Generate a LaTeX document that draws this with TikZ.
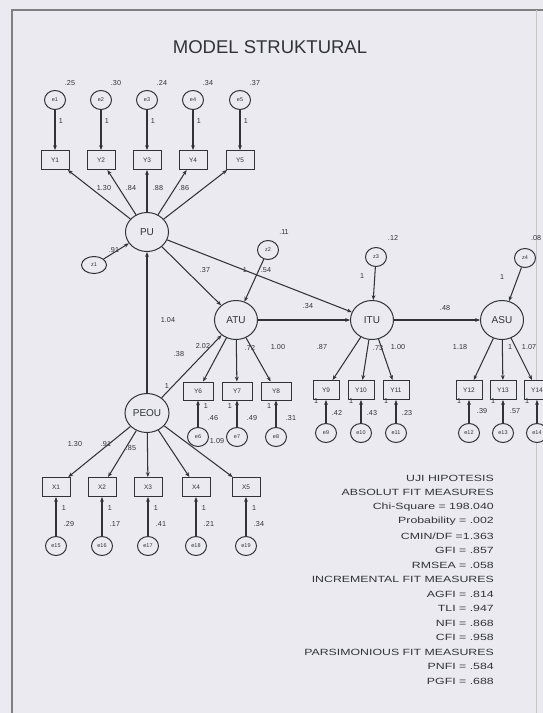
\documentclass[tikz,border=0pt]{standalone}
\usepackage{fontspec}
\usepackage{graphicx}
\setmainfont{Liberation Sans}
\usetikzlibrary{arrows.meta,shapes.geometric}
\definecolor{bg}{RGB}{234,234,240}
\definecolor{ink}{RGB}{50,50,58}
\newcommand\wide[1]{\scalebox{1.37}[1]{#1}}
\begin{document}
\begin{tikzpicture}[x=1pt,y=-1pt,
  >={Stealth[length=4.8pt,width=3.8pt]},
  conn/.style={draw=ink,line width=1.05pt,->},
  obs/.style={draw=ink,line width=1pt,fill=bg,minimum width=28pt,minimum height=19pt,inner sep=0pt,text=ink,font=\fontsize{6.5}{7}\selectfont},
  obsn/.style={obs,minimum width=26pt},
  lat/.style={ellipse,draw=ink,line width=1pt,fill=bg,minimum width=43pt,minimum height=39pt,inner sep=0pt,text=ink,font=\fontsize{10}{12}\selectfont},
  err/.style={ellipse,draw=ink,line width=1pt,fill=bg,minimum width=21pt,minimum height=19pt,inner sep=0pt,text=ink,font=\fontsize{5.5}{6}\selectfont},
  lab/.style={inner sep=0pt,text=ink,font=\fontsize{7.2}{8}\selectfont},
  fitl/.style={inner sep=0pt,anchor=east,text=ink,font=\fontsize{9}{10}\selectfont}]
\useasboundingbox (0,0) rectangle (543,713);
\fill[bg] (0,0) rectangle (543,713);
\draw[gray,line width=1.6pt] (12,713) -- (12,10) -- (543,10);
\draw[gray!45,line width=0.8pt] (536,10) -- (536,713);
\node[text=ink,font=\fontsize{18.5}{21}\selectfont] (title) at (270,47) {MODEL STRUKTURAL};
% ---- PU block
\node[lat] (PU) at (147,232) {PU};
\foreach \i/\x/\v in {1/55/.25,2/101/.30,3/147/.24,4/193/.34,5/240/.37}{
  \node[err] (e\i) at (\x,100) {e\i};
  \node[obs] (Y\i) at (\x,160) {Y\i};
  \node[lab] (ve\i) at (\x+15,83) {\v};
  \node[lab] (one\i) at (\x+6,121) {1};
  \draw[conn] (e\i) -- (Y\i);
  \draw[conn] (PU) -- (Y\i);
}
\node[lab] (lpu1) at (104,188) {1.30};
\node[lab] (lpu2) at (131,188) {.84};
\node[lab] (lpu3) at (158,188) {.88};
\node[lab] (lpu4) at (184,188) {.86};
\node[err,minimum width=25pt,minimum height=17pt] (z1) at (94,265) {z1};
\node[lab] (vz1) at (114,250) {.91};
\draw[conn] (z1) -- (PU);
% ---- structural
\node[lat] (ATU) at (236,320) {ATU};
\node[lat] (ITU) at (372,320) {ITU};
\node[lat] (ASU) at (502,320) {ASU};
\node[lat,minimum width=44pt] (PEOU) at (147,413) {PEOU};
\node[err] (z2) at (268,250) {z2};
\node[err] (z3) at (376,257) {z3};
\node[err] (z4) at (525,258) {z4};
\draw[conn] (PEOU) -- (PU);
\draw[conn] (PU) -- (ATU);
\draw[conn] (PU) -- (ITU);
\draw[conn] (PEOU) -- (ATU);
\draw[conn] (ATU) -- (ITU);
\draw[conn] (ITU) -- (ASU);
\draw[conn] (z2) -- (ATU);
\draw[conn] (z3) -- (ITU);
\draw[conn] (z4) -- (ASU);
\node[lab] (l104) at (168,320) {1.04};
\node[lab] (l37) at (205,270) {.37};
\node[lab] (v11) at (284,232) {.11};
\node[lab] (o2) at (245,270) {1};
\node[lab] (r54) at (266,270) {.54};
\node[lab] (l34) at (308,306) {.34};
\node[lab] (v12) at (393,238) {.12};
\node[lab] (o3) at (362,276) {1};
\node[lab] (l48) at (445,308) {.48};
\node[lab] (v08) at (536,238) {.08};
\node[lab] (o4) at (502,277) {1};
\node[lab] (l38) at (179,354) {.38};
\node[lab] (lp1) at (167,386) {1};
% ---- ATU indicators
\foreach \i/\x/\v in {6/198/.46,7/237/.49,8/276/.31}{
  \node[obs,minimum width=30pt,minimum height=18pt] (Y\i) at (\x,391) {Y\i};
  \node[err] (e\i) at (\x,437) {e\i};
  \node[lab] (ve\i) at (\x+15,418) {\v};
  \draw[conn] (e\i) -- (Y\i);
  \draw[conn] (ATU) -- (Y\i);
}
\node[lab] (one6) at (206,406) {1};
\node[lab] (one7) at (230,406) {1};
\node[lab] (one8) at (269,406) {1};
\node[lab] (la6) at (203,346) {2.02};
\node[lab] (la7) at (250,348) {.72};
\node[lab] (la8) at (278,347) {1.00};
\node[lab] (l109) at (217,441) {1.09};
% ---- ITU indicators
\foreach \i/\x/\v in {9/326/.42,10/361/.43,11/396/.23}{
  \node[obsn] (Y\i) at (\x,390) {Y\i};
  \node[err] (e\i) at (\x,433) {e\i};
  \node[lab] (ve\i) at (\x+11,413) {\v};
  \node[lab] (one\i) at (\x-10,401) {1};
  \draw[conn] (e\i) -- (Y\i);
  \draw[conn] (ITU) -- (Y\i);
}
\node[lab] (li9) at (322,347) {.87};
\node[lab] (li10) at (378,348) {.73};
\node[lab] (li11) at (398,347) {1.00};
% ---- ASU indicators
\foreach \i/\x in {12/469,13/503,14/537}{
  \node[obsn] (Y\i) at (\x,390) {Y\i};
  \node[err] (e\i) at (\x,433) {e\i};
  \node[lab] (one\i) at (\x-10,401) {1};
  \draw[conn] (e\i) -- (Y\i);
  \draw[conn] (ASU) -- (Y\i);
}
\node[lab] (ve12) at (482,411) {.39};
\node[lab] (ve13) at (515,411) {.57};
\node[lab] (ls12) at (460,347) {1.18};
\node[lab] (ls13) at (510,347) {1};
\node[lab] (ls14) at (529,347) {1.07};
% ---- PEOU indicators
\foreach \i/\x/\v/\n in {1/56/.29/15,2/102/.17/16,3/148/.41/17,4/196/.21/18,5/246/.34/19}{
  \node[obs] (X\i) at (\x,487) {X\i};
  \node[err] (e\n) at (\x,546) {e\n};
  \node[lab] (ve\n) at (\x+13,524) {\v};
  \node[lab] (one\n) at (\x+8,508) {1};
  \draw[conn] (e\n) -- (X\i);
  \draw[conn] (PEOU) -- (X\i);
}
\node[lab] (lx1) at (75,444) {1.30};
\node[lab] (lx2) at (106,444) {.91};
\node[lab] (lx3) at (131,448) {.85};
% ---- fit measures
\node[fitl] (f1) at (494,478) {\wide{UJI HIPOTESIS}};
\node[fitl] (f2) at (494,492.5) {\wide{ABSOLUT FIT MEASURES}};
\node[fitl] (f3) at (494,507) {\wide{Chi-Square = 198.040}};
\node[fitl] (f4) at (494,521.5) {\wide{Probability = .002}};
\node[fitl] (f5) at (494,536) {\wide{CMIN/DF =1.363}};
\node[fitl] (f6) at (494,550.5) {\wide{GFI = .857}};
\node[fitl] (f7) at (494,565) {\wide{RMSEA = .058}};
\node[fitl] (f8) at (494,579.5) {\wide{INCREMENTAL FIT MEASURES}};
\node[fitl] (f9) at (494,594) {\wide{AGFI = .814}};
\node[fitl] (f10) at (494,608.5) {\wide{TLI = .947}};
\node[fitl] (f11) at (494,623) {\wide{NFI = .868}};
\node[fitl] (f12) at (494,637.5) {\wide{CFI = .958}};
\node[fitl] (f13) at (494,652) {\wide{PARSIMONIOUS FIT MEASURES}};
\node[fitl] (f14) at (494,666.5) {\wide{PNFI = .584}};
\node[fitl] (f15) at (494,681) {\wide{PGFI = .688}};
\end{tikzpicture}
\end{document}
